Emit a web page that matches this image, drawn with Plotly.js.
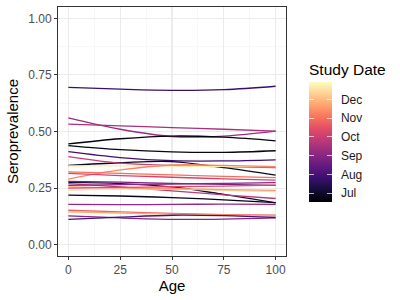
<!DOCTYPE html>
<html>
<head>
<meta charset="utf-8">
<script src="https://cdn.plot.ly/plotly-3.0.1.min.js"></script>
<style>html,body{margin:0;padding:0;background:#fff;}#chart{width:400px;height:300px;}</style>
</head>
<body>
<div id="chart"></div>
<script>
// Ages at which each fitted curve is sampled
const ages = [0, 25, 50, 75, 100];

// Study date of each curve (month number; 7 = Jul ... 12 = Dec)
const studyMonth = [
  7.8, 9.3, 9.5, 6.7, 6.8, 7.9, 6.9, 10.0, 12.7, 11.3,
  11.0, 10.2, 7.2, 8.8, 9.8, 9.0, 12.5, 11.6, 10.4, 6.8,
  9.2, 10.8, 11.8, 9.0, 8.0
];

// Seroprevalence of each curve at the ages above
const seroA  = [0.695, 0.687, 0.682, 0.685, 0.700];
const seroB  = [0.560, 0.510, 0.478, 0.480, 0.502];
const seroC  = [0.533, 0.525, 0.517, 0.510, 0.502];
const seroD  = [0.445, 0.468, 0.480, 0.475, 0.459];
const seroE  = [0.438, 0.420, 0.410, 0.408, 0.415];
const seroF  = [0.411, 0.385, 0.371, 0.370, 0.375];
const seroG  = [0.350, 0.362, 0.367, 0.340, 0.307];
const seroH  = [0.389, 0.360, 0.350, 0.345, 0.340];
const seroI  = [0.348, 0.348, 0.347, 0.346, 0.345];
const seroJ  = [0.290, 0.330, 0.352, 0.350, 0.345];
const seroK  = [0.322, 0.315, 0.308, 0.302, 0.296];
const seroL  = [0.315, 0.305, 0.298, 0.291, 0.285];
const seroM  = [0.275, 0.270, 0.255, 0.222, 0.185];
const seroN  = [0.280, 0.276, 0.271, 0.266, 0.262];
const seroO  = [0.270, 0.255, 0.238, 0.220, 0.204];
const seroP  = [0.262, 0.265, 0.268, 0.271, 0.274];
const seroQ  = [0.241, 0.245, 0.245, 0.240, 0.234];
const seroR  = [0.255, 0.251, 0.247, 0.243, 0.240];
const seroS  = [0.250, 0.253, 0.256, 0.259, 0.263];
const seroT  = [0.219, 0.215, 0.208, 0.198, 0.186];
const seroU  = [0.178, 0.177, 0.178, 0.179, 0.178];
const seroV  = [0.152, 0.145, 0.138, 0.133, 0.130];
const seroW  = [0.145, 0.140, 0.135, 0.130, 0.127];
const seroX  = [0.127, 0.118, 0.112, 0.113, 0.118];
const seroY  = [0.112, 0.122, 0.130, 0.128, 0.120];

const series = [seroA, seroB, seroC, seroD, seroE, seroF, seroG, seroH, seroI, seroJ,
  seroK, seroL, seroM, seroN, seroO, seroP, seroQ, seroR, seroS, seroT,
  seroU, seroV, seroW, seroX, seroY];

// Colour bar tick labels
const monthTicks = [7, 8, 9, 10, 11, 12];
const monthLabels = ["Jul", "Aug", "Sep", "Oct", "Nov", "Dec"];

const cmin = 6.55, cmax = 12.94;
const magma = [
  [0.0, "#000004"], [0.1, "#140e36"], [0.2, "#3b0f70"], [0.3, "#641a80"],
  [0.4, "#8c2981"], [0.5, "#b73779"], [0.6, "#de4968"], [0.7, "#f7705c"],
  [0.8, "#fe9f6d"], [0.9, "#fecf92"], [1.0, "#fcfdbf"]
];
const clear = [[0, "rgba(255,255,255,0)"], [1, "rgba(255,255,255,0)"]];
function hex2rgb(h){return [parseInt(h.slice(1,3),16),parseInt(h.slice(3,5),16),parseInt(h.slice(5,7),16)];}
function colorFor(v){
  let t = (v - cmin) / (cmax - cmin);
  t = Math.max(0, Math.min(1, t));
  for (let i = 1; i < magma.length; i++) {
    if (t <= magma[i][0]) {
      const a = magma[i-1], b = magma[i];
      const f = (t - a[0]) / (b[0] - a[0]);
      const ca = hex2rgb(a[1]), cb = hex2rgb(b[1]);
      const c = ca.map((x, k) => Math.round(x + (cb[k] - x) * f));
      return "rgb(" + c.join(",") + ")";
    }
  }
  return magma[magma.length-1][1];
}

const font = "Liberation Sans, Arial, sans-serif";

const traces = series.map((ys, i) => ({
  type: "scatter", mode: "lines", x: ages, y: ys,
  line: {color: colorFor(studyMonth[i]), width: 1.3, shape: "spline", smoothing: 1},
  showlegend: false, hoverinfo: "skip"
}));

// Colour bar geometry (pixels in the 400x300 page)
const barLeft = 309, barTop = 82, barBottom = 201.7, barW = 23;
const plotTop = 7, plotBottom = 256;
const yBottom = (plotBottom - barBottom) / (plotBottom - plotTop);
const barLen = barBottom - barTop;

function cbTrace(cb, scale) {
  return {
    type: "scatter", mode: "markers", x: [null], y: [null], showlegend: false,
    marker: {color: studyMonth, cmin: cmin, cmax: cmax, colorscale: scale, size: 0.1,
      showscale: true, colorbar: Object.assign({
        xref: "container", xanchor: "left",
        yref: "paper", y: yBottom, yanchor: "bottom",
        len: barLen, lenmode: "pixels", thicknessmode: "pixels",
        outlinewidth: 0, xpad: 0, ypad: 0,
        tickmode: "array", tickvals: monthTicks, ticktext: monthLabels
      }, cb)}
  };
}

// visible bar with white inner ticks on the right edge
traces.push(cbTrace({x: barLeft/400, thickness: barW, ticks: "inside", ticklen: 4.5,
  tickcolor: "#ffffff", tickwidth: 0.7, showticklabels: false}, magma));
// white inner ticks on the left edge
traces.push(cbTrace({x: (barLeft - 1)/400, thickness: 1, ticks: "outside", ticklen: 5.5,
  tickcolor: "#ffffff", tickwidth: 0.7, showticklabels: false}, clear));
// labels
traces.push(cbTrace({x: (barLeft + barW + 5)/400, thickness: 1, ticks: "", showticklabels: true,
  tickfont: {family: font, size: 12, color: "#1a1a1a"}}, clear));

const layout = {
  width: 400, height: 300,
  margin: {l: 58, r: 114, t: 7, b: 44},
  paper_bgcolor: "#fff", plot_bgcolor: "#fff",
  showlegend: false,
  annotations: [{
    text: "Study Date", xref: "paper", yref: "paper",
    x: (barLeft - 2 - 58) / 228, xanchor: "left",
    y: (plotBottom - 69) / (plotBottom - plotTop), yanchor: "middle",
    showarrow: false, font: {family: font, size: 15.5, color: "#000"}
  }],
  xaxis: {
    range: [-5, 105], tickvals: [0, 25, 50, 75, 100],
    showgrid: true, gridcolor: "#ebebeb", gridwidth: 1.1,
    minor: {tickvals: [12.5, 37.5, 62.5, 87.5], showgrid: true, gridcolor: "#f3f3f3", gridwidth: 0.6},
    zeroline: false,
    showline: true, mirror: true, linecolor: "#333333", linewidth: 1,
    ticks: "outside", ticklen: 3, tickcolor: "#333333", tickwidth: 1,
    tickfont: {family: font, size: 12, color: "#4d4d4d"},
    title: {text: "Age", font: {family: font, size: 15, color: "#000"}, standoff: 2},
    automargin: true
  },
  yaxis: {
    range: [-0.05, 1.05], tickvals: [0, 0.25, 0.5, 0.75, 1], tickformat: ".2f",
    showgrid: true, gridcolor: "#ebebeb", gridwidth: 1.1,
    minor: {tickvals: [0.125, 0.375, 0.625, 0.875], showgrid: true, gridcolor: "#f3f3f3", gridwidth: 0.6},
    zeroline: false,
    showline: true, mirror: true, linecolor: "#333333", linewidth: 1,
    ticks: "outside", ticklen: 3, tickcolor: "#333333", tickwidth: 1,
    tickfont: {family: font, size: 12, color: "#4d4d4d"},
    title: {text: "Seroprevalence", font: {family: font, size: 15, color: "#000"}, standoff: 5},
    automargin: false
  }
};

Plotly.newPlot("chart", traces, layout, {staticPlot: true, displayModeBar: false});
</script>
</body>
</html>
